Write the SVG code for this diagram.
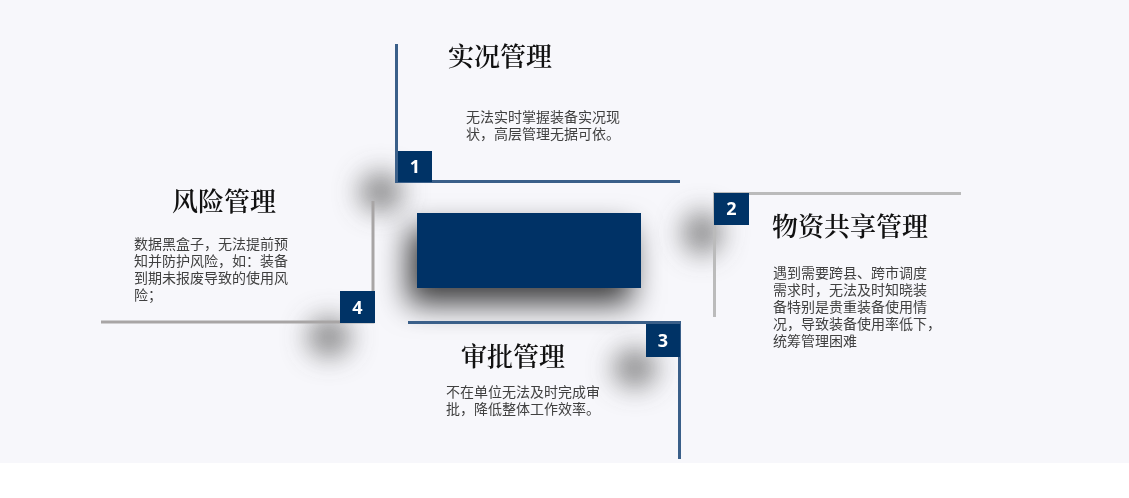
<svg xmlns="http://www.w3.org/2000/svg" width="1129" height="498" viewBox="0 0 1129 498">
<defs>
<filter id="blob" x="-100%" y="-100%" width="300%" height="300%"><feGaussianBlur stdDeviation="13"/></filter>
<filter id="ctr" x="-50%" y="-100%" width="200%" height="320%"><feDropShadow dx="-9" dy="16" stdDeviation="15" flood-color="#000" flood-opacity="0.75"/></filter>
</defs>
<style>
.title{font-family:"Noto Serif CJK SC","Noto Sans CJK SC",serif;font-size:26px;font-weight:600;fill:#111;}
.body{font-family:"Noto Sans CJK SC",sans-serif;font-size:14px;fill:#404040;}
.num{font-family:"Open Sans","DejaVu Sans",sans-serif;font-size:18px;font-weight:bold;fill:#fff;text-anchor:middle;}
.box{fill:#003366;}
.blue{stroke:#3a5f89;stroke-width:3;fill:none;}
.gray{stroke:#bbbbbb;stroke-width:3;fill:none;}
.gray2{stroke:#a8a5a5;stroke-width:3;fill:none;}
.sh{fill:#666;opacity:0.72;}
</style>
<rect x="0" y="0" width="1129" height="498" fill="#fff"/>
<rect x="0" y="0" width="1129" height="463" fill="#f7f7fb"/>
<g id="shadows" filter="url(#blob)">
<ellipse class="sh" cx="381" cy="192" rx="22" ry="20"/>
<ellipse class="sh" cx="702" cy="233" rx="20" ry="22"/>
<ellipse class="sh" cx="329" cy="337" rx="22" ry="20"/>
<ellipse class="sh" cx="635" cy="368" rx="22" ry="20"/>
</g>
<g id="center">
<rect x="417" y="213" width="224" height="75" fill="#003366" filter="url(#ctr)"/>
</g>
<g id="connectors">
<polyline class="blue" points="396.5,44 396.5,181.5 680,181.5"/>
<polyline class="gray" points="961,193.5 714.5,193.5 714.5,317"/>
<polyline class="blue" points="408,322.5 679.5,322.5 679.5,459"/>
<polyline class="gray2" points="373,201 373,322 101,322"/>
</g>
<g id="node1">
<rect class="box" x="398" y="151" width="34" height="31"/>
<text class="num" x="415" y="173">1</text>
<text class="title" x="448" y="66">实况管理</text>
<text class="body"><tspan x="466" y="122">无法实时掌握装备实况现</tspan><tspan x="466" y="139">状，高层管理无据可依。</tspan></text>
</g>
<g id="node2">
<rect class="box" x="714" y="193" width="35" height="32"/>
<text class="num" x="731.5" y="215">2</text>
<text class="title" x="772" y="236">物资共享管理</text>
<text class="body"><tspan x="773" y="278">遇到需要跨县、跨市调度</tspan><tspan x="773" y="295">需求时，无法及时知晓装</tspan><tspan x="773" y="312">备特别是贵重装备使用情</tspan><tspan x="773" y="329">况，导致装备使用率低下，</tspan><tspan x="773" y="346">统筹管理困难</tspan></text>
</g>
<g id="node3">
<rect class="box" x="646" y="324" width="34" height="33"/>
<text class="num" x="663" y="347">3</text>
<text class="title" x="461" y="366">审批管理</text>
<text class="body"><tspan x="446" y="397">不在单位无法及时完成审</tspan><tspan x="446" y="414">批，降低整体工作效率。</tspan></text>
</g>
<g id="node4">
<rect class="box" x="340" y="291" width="35" height="32"/>
<text class="num" x="357.5" y="314">4</text>
<text class="title" x="172" y="211">风险管理</text>
<text class="body"><tspan x="134" y="249">数据黑盒子，无法提前预</tspan><tspan x="134" y="266">知并防护风险，如：装备</tspan><tspan x="134" y="283">到期未报废导致的使用风</tspan><tspan x="134" y="300">险；</tspan></text>
</g>
</svg>
